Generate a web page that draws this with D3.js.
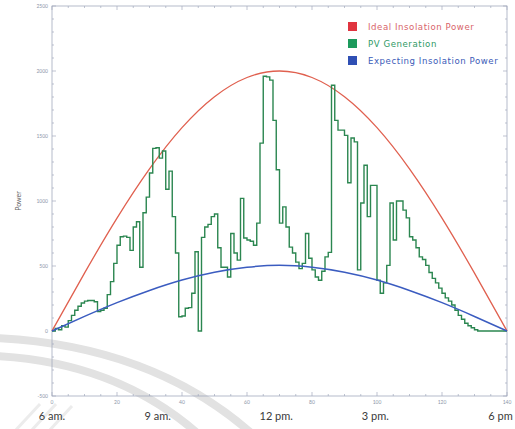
<!DOCTYPE html>
<html>
<head>
<meta charset="utf-8">
<script src="https://cdn.jsdelivr.net/npm/d3@7"></script>
<style>
  html, body { margin: 0; padding: 0; background: #fff; }
  svg { display: block; font-family: "Lato", "Open Sans", sans-serif; }
</style>
</head>
<body>
<svg id="chart" width="515" height="429"></svg>
<script>
// Time steps (x axis units) and the measured PV output at each step
const pvSteps = d3.range(0, 141);
const pvGeneration = [
  0, 20, 10, 40, 30, 80, 120, 160, 190, 215,
  230, 235, 235, 225, 150, 160, 175, 280, 380, 520,
  660, 725, 730, 720, 620, 800, 840, 490, 910, 1030,
  1215, 1405, 1410, 1330, 1385, 1090, 1230, 880, 600, 110,
  115, 175, 180, 290, 610, 0, 720, 800, 820, 880,
  900, 640, 490, 490, 415, 750, 600, 545, 1020, 715,
  700, 690, 660, 830, 1445, 1960, 1955, 1930, 1620, 1240,
  830, 955, 800, 645, 600, 530, 480, 520, 750, 560,
  470, 415, 390, 460, 570, 605, 1890, 1620, 1545, 1545,
  1505, 1140, 1485, 1455, 470, 985, 1275, 880, 1120, 1120,
  390, 290, 370, 505, 985, 700, 1000, 1000, 930, 870,
  725, 700, 640, 570, 550, 505, 450, 405, 370, 330,
  290, 255, 230, 200, 160, 120, 90, 60, 40, 25,
  10, 0, 0, 0, 0, 0, 0, 0, 0, 0,
  0
];

// Smooth reference curves, sampled every 10 steps
const curveSteps = [0, 10, 20, 30, 40, 50, 60, 70, 80, 90, 100, 110, 120, 130, 140];
const idealPower = [0, 445, 868, 1247, 1564, 1802, 1950, 2000, 1950, 1802, 1564, 1247, 868, 445, 0];
const expectingPower = [0, 112, 218, 312, 392, 452, 490, 505, 490, 452, 392, 312, 218, 112, 0];

// Axis ticks
const xTicks = [0, 20, 40, 60, 80, 100, 120, 140];
const yTicks = [-500, 0, 500, 1000, 1500, 2000, 2500];

// Clock-time labels under the axis, placed in step units
const timeLabels = ["6 am.", "9 am.", "12 pm.", "3 pm.", "6 pm"];
const timeSteps = [0, 32.5, 69, 99.5, 138];

const legendNames = ["Ideal Insolation Power", "PV Generation", "Expecting Insolation Power"];
const legendColors = ["#e0343f", "#1c9a5c", "#2f4fb4"];
const legendText = ["#d8646a", "#2f9a66", "#3b5bb8"];

const svg = d3.select("#chart");

const x = d3.scaleLinear().domain([0, 140]).range([52, 507]);
const y = d3.scaleLinear().domain([-500, 2500]).range([396, 6]);

// faint watermark arcs in the lower-left corner
const wm = svg.append("g").attr("fill", "none").attr("stroke", "#e2e2e2").attr("stroke-width", 8);
wm.append("path").attr("d", "M-5,338 Q150,345 250,432");
wm.append("path").attr("d", "M-5,356 Q115,362 196,432");
const wm2 = svg.append("g").attr("stroke", "#ececec").attr("stroke-width", 3);
wm2.append("line").attr("x1", 14).attr("y1", 432).attr("x2", 40).attr("y2", 404);
wm2.append("line").attr("x1", 30).attr("y1", 432).attr("x2", 56).attr("y2", 404);
wm2.append("line").attr("x1", 48).attr("y1", 432).attr("x2", 72).attr("y2", 406);

// frame
const frameColor = "#a3abbd";
svg.append("rect")
  .attr("x", x(0)).attr("y", y(2500))
  .attr("width", x(140) - x(0)).attr("height", y(-500) - y(2500))
  .attr("fill", "none").attr("stroke", frameColor).attr("stroke-width", 0.8);

// inward ticks on all four sides
const axisG = svg.append("g").attr("stroke", frameColor).attr("stroke-width", 0.7);
d3.range(0, 141, 5).forEach(v => {
  const len = v % 20 === 0 ? 4 : 2;
  axisG.append("line").attr("x1", x(v)).attr("x2", x(v)).attr("y1", y(-500)).attr("y2", y(-500) - len);
  axisG.append("line").attr("x1", x(v)).attr("x2", x(v)).attr("y1", y(2500)).attr("y2", y(2500) + len);
});
d3.range(-500, 2501, 100).forEach(v => {
  const len = v % 500 === 0 ? 4 : 2;
  axisG.append("line").attr("y1", y(v)).attr("y2", y(v)).attr("x1", x(0)).attr("x2", x(0) + len);
  axisG.append("line").attr("y1", y(v)).attr("y2", y(v)).attr("x1", x(140)).attr("x2", x(140) - len);
});

// tick labels
svg.append("g").selectAll("text").data(yTicks).join("text")
  .attr("x", x(0) - 4).attr("y", d => y(d) + 1.8)
  .attr("text-anchor", "end").attr("font-size", 5).attr("fill", "#8c96a8")
  .text(d => d);
svg.append("g").selectAll("text").data(xTicks).join("text")
  .attr("x", d => x(d)).attr("y", y(-500) + 8)
  .attr("text-anchor", "middle").attr("font-size", 5).attr("fill", "#8c96a8")
  .text(d => d);

// y axis title
svg.append("text")
  .attr("transform", `translate(21,${y(1000)}) rotate(-90)`)
  .attr("text-anchor", "middle").attr("font-size", 7).attr("fill", "#666")
  .text("Power");

// clock-time labels
svg.append("g").selectAll("text").data(timeLabels).join("text")
  .attr("x", (d, i) => x(timeSteps[i])).attr("y", 420)
  .attr("text-anchor", "middle").attr("font-size", 11).attr("fill", "#3a3a3a")
  .text(d => d);

// curves
const smooth = d3.line().x((d, i) => x(curveSteps[i])).y(d => y(d)).curve(d3.curveNatural);
svg.append("path").datum(idealPower)
  .attr("d", smooth).attr("fill", "none").attr("stroke", "#e0604f").attr("stroke-width", 1.3);
svg.append("path").datum(pvGeneration)
  .attr("d", d3.line().x((d, i) => x(pvSteps[i])).y(d => y(d)).curve(d3.curveStepAfter))
  .attr("fill", "none").attr("stroke", "#2b8650").attr("stroke-width", 1.4);
svg.append("path").datum(expectingPower)
  .attr("d", smooth).attr("fill", "none").attr("stroke", "#3b5cc0").attr("stroke-width", 1.5);

// legend
const lg = svg.append("g").attr("transform", "translate(348,22)");
legendNames.forEach((name, i) => {
  lg.append("rect").attr("x", 0).attr("y", i * 17).attr("width", 9).attr("height", 9)
    .attr("fill", legendColors[i]);
  lg.append("text").attr("x", 20).attr("y", i * 17 + 7.5)
    .attr("font-family", "DejaVu Sans").attr("font-size", 8.6).attr("letter-spacing", 0.55)
    .attr("fill", legendText[i]).text(name);
});
</script>
</body>
</html>
